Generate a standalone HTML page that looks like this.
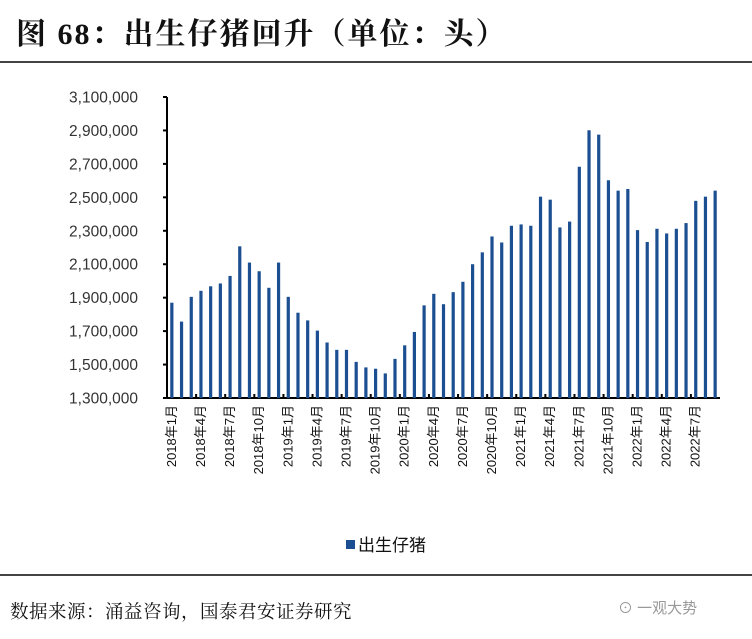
<!DOCTYPE html>
<html><head><meta charset="utf-8"><style>
body{margin:0;width:752px;height:639px;background:#fff;overflow:hidden;position:relative;font-family:"Liberation Serif","Noto Serif CJK SC",serif}
.title{position:absolute;left:16px;top:17px;font-size:30px;line-height:36px;font-weight:bold;color:#111;white-space:nowrap;letter-spacing:2px}
.hr{position:absolute;left:0;width:752px;height:2px;background:#444}
.src{position:absolute;left:10px;top:598px;font-size:18.5px;color:#111;letter-spacing:0.5px;white-space:nowrap}
.wm{position:absolute;left:618px;top:597px;font-size:15px;color:#999;font-family:"Liberation Sans","Noto Sans CJK SC",sans-serif}
</style></head><body>
<div class="title">图 68：出生仔猪回升（单位：头）</div>
<div class="hr" style="top:61px"></div>
<svg id="chart" width="752" height="560" style="position:absolute;left:0;top:0" font-family="Liberation Sans,Noto Sans CJK SC,sans-serif"></svg>
<div class="hr" style="top:574px"></div>
<div class="src">数据来源：涌益咨询，国泰君安证券研究</div>
<div class="wm">⊙ 一观大势</div>
<script>
const months=[];for(let y=2018;y<=2022;y++)for(let m=1;m<=12;m++){if(y===2022&&m>9)break;months.push(y+"年"+m+"月");}
const values=[1870000,1757000,1905000,1941000,1968000,1985000,2030000,2207000,2110000,2058000,1959000,2110000,
1905000,1810000,1764000,1703000,1632000,1588000,1588000,1516000,1483000,1475000,1447000,1534000,
1615000,1695000,1854000,1923000,1861000,1933000,1995000,2100000,2171000,2266000,2230000,2330000,
2338000,2330000,2504000,2486000,2320000,2355000,2683000,2901000,2875000,2602000,2540000,2550000,
2304000,2233000,2312000,2284000,2312000,2346000,2479000,2504000,2540000];
const yTicks=[1300000,1500000,1700000,1900000,2100000,2300000,2500000,2700000,2900000,3100000];
const seriesName="出生仔猪";
const svg=document.getElementById('chart');const NS="http://www.w3.org/2000/svg";
const X0=167,X1=720,Y0=398,Y1=97,VMIN=1300000,VMAX=3100000;
const bw=(X1-X0)/months.length;
const yS=v=>Y0-(v-VMIN)/(VMAX-VMIN)*(Y0-Y1);
const xS=i=>X0+bw*(i+0.5);
function mk(t,a){const e=document.createElementNS(NS,t);for(const k in a)e.setAttribute(k,a[k]);svg.appendChild(e);return e;}
let ax=mk('line',{x1:X0,y1:Y1,x2:X0,y2:Y0,stroke:'#000','stroke-width':2});


let xa=mk('line',{x1:X0,y1:Y0,x2:X1,y2:Y0,stroke:'#000','stroke-width':2});


yTicks.forEach(v=>{const y=yS(v);
 mk('line',{x1:X0-4,y1:y,x2:X0,y2:y,stroke:'#000','stroke-width':2});
 const t=mk('text',{x:138,y:y+5.5,'text-anchor':'end','font-size':15.5,fill:'#333'});t.textContent=v.toLocaleString('en-US');
 
 
});
values.forEach((v,i)=>{const y=yS(v);
 const r=mk('rect',{x:xS(i)-1.6,y:y,width:3.2,height:Y0-y,fill:'#1c4f91'});
 
 
});
months.forEach((m,i)=>{
 if(i%3===0){const tx=X0+bw*i;mk('line',{x1:tx,y1:Y0,x2:tx,y2:Y0-4,stroke:'#000','stroke-width':2});
  const x=xS(i)+4;const t=mk('text',{x:x,y:405,'text-anchor':'end','font-size':13,fill:'#111',transform:`rotate(-90 ${x} 405)`});t.textContent=m;
  
  }
});
const lr=mk('rect',{x:346,y:540,width:9,height:9,fill:'#1c4f91'});


const lt=mk('text',{x:358,y:551,'font-size':17,fill:'#111'});lt.textContent=seriesName;


</script>
</body></html>
